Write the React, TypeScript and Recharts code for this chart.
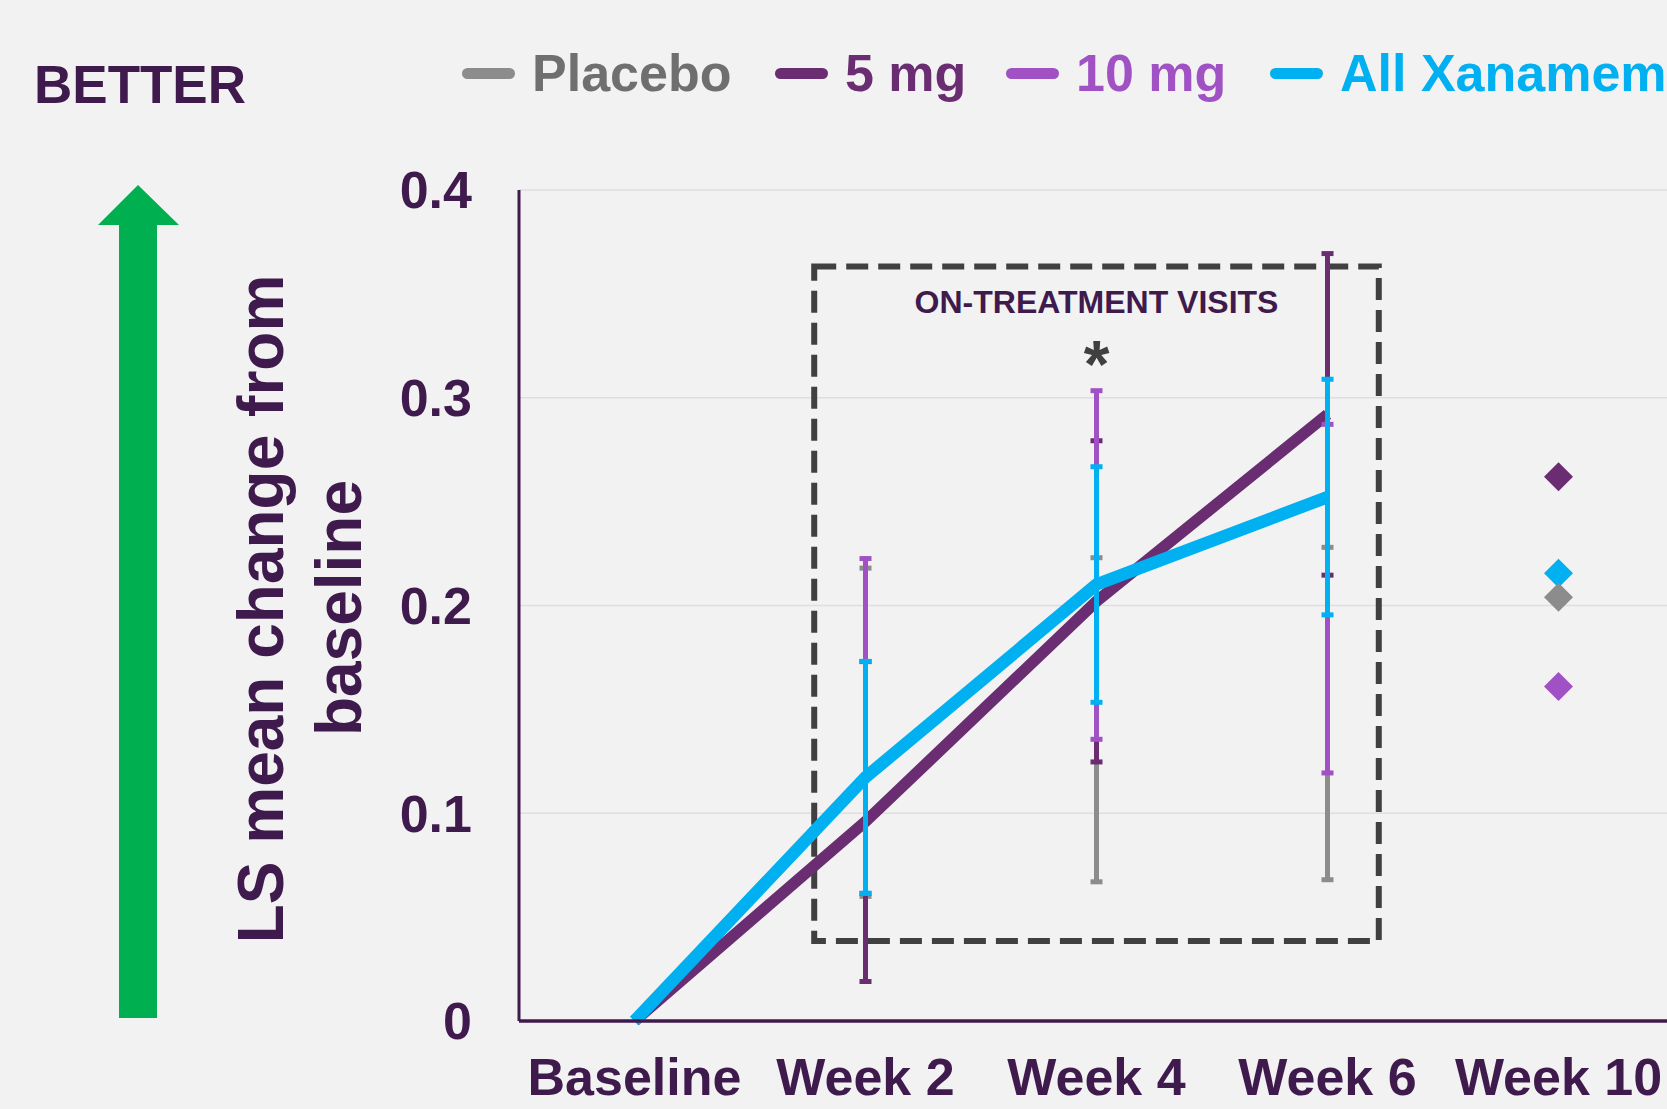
import React from "react";
import {
  ComposedChart,
  Line,
  XAxis,
  YAxis,
  CartesianGrid,
  ErrorBar,
  ReferenceArea,
  ReferenceDot,
} from "recharts";

const FONT = '"Liberation Sans", Arial, Helvetica, sans-serif';
const INK = "#3f1a4c";
const GREY = "#8c8c8c";
const PURPLE = "#6a2d71";
const VIOLET = "#a052c4";
const CYAN = "#00b0f0";
const BG = "#f2f2f2";

const visits = ["Baseline", "Week 2", "Week 4", "Week 6", "Week 10"];
const yTicks = [0, 0.1, 0.2, 0.3, 0.4];

// LS mean change from baseline per visit; Week 10 is off-treatment (diamond only)
const placebo = [0, 0.139, 0.145, 0.148, 0.204];
const placeboErr = [0, 0.079, 0.078, 0.08, 0];
const mg5 = [0, 0.096, 0.202, 0.292, 0.262];
const mg5Err = [0, 0.077, 0.0773, 0.0774, 0];
const mg10 = [0, 0.142, 0.2195, 0.2033, 0.161];
const mg10Err = [0, 0.0806, 0.0839, 0.0839, 0];
const allXan = [0, 0.1173, 0.2101, 0.2522, 0.2155];
const allXanErr = [0, 0.0558, 0.0567, 0.0567, 0];

const legendItems = [
  { name: "Placebo", color: GREY, text: "#6f6f6f" },
  { name: "5 mg", color: PURPLE, text: PURPLE },
  { name: "10 mg", color: VIOLET, text: VIOLET },
  { name: "All Xanamem", color: CYAN, text: CYAN },
];

const FU = 4; // index of the follow-up visit
const onTx = (i: number) => i >= 1 && i <= 3;

const rows = visits.map((name, i) => ({
  x: i,
  name,
  mg5Line: i < FU ? mg5[i] : null,
  allLine: i < FU ? allXan[i] : null,
  placeboBar: onTx(i) ? placebo[i] : null,
  placeboErr: placeboErr[i],
  mg5Bar: onTx(i) ? mg5[i] : null,
  mg5Err: mg5Err[i],
  mg10Bar: onTx(i) ? mg10[i] : null,
  mg10Err: mg10Err[i],
  allBar: onTx(i) ? allXan[i] : null,
  allErr: allXanErr[i],
  placeboFu: i === FU ? placebo[i] : null,
  mg5Fu: i === FU ? mg5[i] : null,
  mg10Fu: i === FU ? mg10[i] : null,
  allFu: i === FU ? allXan[i] : null,
}));

const diamond = (color: string) => (p: any) => {
  if (p.cx == null || p.cy == null || p.value == null)
    return <g key={`e-${p.index}`} />;
  const r = 14.5;
  const { cx, cy } = p;
  return (
    <path
      key={`d-${p.index}`}
      d={`M${cx},${cy - r} L${cx + r},${cy} L${cx},${cy + r} L${cx - r},${cy} Z`}
      fill={color}
    />
  );
};

const textAt = (value: string, size: number, color: string) => (p: any) => {
  const vb = p.viewBox || {};
  const x = (vb.x ?? 0) + (vb.width ?? 0) / 2;
  const y = (vb.y ?? 0) + (vb.height ?? 0) / 2;
  return (
    <text
      x={x}
      y={y}
      textAnchor="middle"
      fill={color}
      fontFamily={FONT}
      fontWeight={700}
      fontSize={size}
    >
      {value}
    </text>
  );
};

const tickStyle = { fill: INK, fontSize: 52, fontWeight: 700, fontFamily: FONT };

function Overlay() {
  return (
    <svg
      width={1667}
      height={1109}
      style={{ position: "absolute", left: 0, top: 0, pointerEvents: "none" }}
    >
      <text x={34} y={103} fill={INK} fontFamily={FONT} fontWeight={700} fontSize={53}>
        BETTER
      </text>
      {/* green "better" arrow */}
      <polygon
        points="138,185 179,225 157,225 157,1018 119,1018 119,225 98,225"
        fill="#00b050"
      />
      <text
        transform="translate(283,609) rotate(-90)"
        textAnchor="middle"
        fill={INK}
        fontFamily={FONT}
        fontWeight={700}
        fontSize={64}
      >
        LS mean change from
      </text>
      <text
        transform="translate(361,608) rotate(-90)"
        textAnchor="middle"
        fill={INK}
        fontFamily={FONT}
        fontWeight={700}
        fontSize={64}
      >
        baseline
      </text>
      {legendItems.map((it, i) => {
        const sx = [462, 775, 1006, 1270][i];
        return (
          <g key={it.name}>
            <line
              x1={sx + 5.5}
              x2={sx + 47.5}
              y1={73.5}
              y2={73.5}
              stroke={it.color}
              strokeWidth={11}
              strokeLinecap="round"
            />
            <text
              x={sx + 70}
              y={91}
              fill={it.text}
              fontFamily={FONT}
              fontWeight={700}
              fontSize={52}
            >
              {it.name}
            </text>
          </g>
        );
      })}
    </svg>
  );
}

export default function App() {
  return (
    <div
      style={{
        position: "absolute",
        left: 0,
        top: 0,
        width: 1667,
        height: 1109,
        overflow: "hidden",
        background: BG,
      }}
    >
      <ComposedChart
        width={1674}
        height={1109}
        data={rows}
        margin={{ top: 190, right: 0, bottom: 0, left: 0 }}
      >
        <CartesianGrid vertical={false} stroke="#dedede" strokeWidth={1.5} />
        <XAxis
          dataKey="x"
          type="number"
          domain={[-0.5, 4.5]}
          ticks={[0, 1, 2, 3, 4]}
          tickFormatter={(v: number) => visits[v]}
          height={88}
          tickLine={false}
          tickSize={0}
          tickMargin={37}
          axisLine={{ stroke: INK, strokeWidth: 3.5 }}
          tick={tickStyle}
          interval={0}
        />
        <YAxis
          type="number"
          domain={[0, 0.4]}
          ticks={yTicks}
          tickFormatter={(v: number) => (v === 0 ? "0" : v.toFixed(1))}
          width={519}
          tickLine={false}
          tickSize={0}
          tickMargin={47}
          axisLine={{ stroke: INK, strokeWidth: 3 }}
          tick={tickStyle}
        />
        <ReferenceArea
          x1={0.778}
          x2={3.222}
          y1={0.0385}
          y2={0.3632}
          fill="none"
          fillOpacity={0}
          stroke="#404040"
          strokeWidth={6}
          strokeDasharray="22 10"
        />
        <ReferenceDot
          x={2}
          y={0.3406}
          r={0}
          fill="none"
          stroke="none"
          label={{ content: textAt("ON-TREATMENT VISITS", 32, INK) }}
        />
        <ReferenceDot
          x={2}
          y={0.305}
          r={0}
          fill="none"
          stroke="none"
          label={{ content: textAt("*", 66, "#404040") }}
        />

        <Line
          dataKey="mg5Line"
          stroke={PURPLE}
          strokeWidth={11.5}
          dot={false}
          activeDot={false}
          type="linear"
          isAnimationActive={false}
        />
        <Line
          dataKey="allLine"
          stroke={CYAN}
          strokeWidth={12.5}
          dot={false}
          activeDot={false}
          type="linear"
          isAnimationActive={false}
        />

        <Line dataKey="placeboBar" stroke="none" dot={false} activeDot={false} isAnimationActive={false}>
          <ErrorBar dataKey="placeboErr" stroke={GREY} strokeWidth={5} width={6} isAnimationActive={false} />
        </Line>
        <Line dataKey="mg5Bar" stroke="none" dot={false} activeDot={false} isAnimationActive={false}>
          <ErrorBar dataKey="mg5Err" stroke={PURPLE} strokeWidth={5} width={6} isAnimationActive={false} />
        </Line>
        <Line dataKey="mg10Bar" stroke="none" dot={false} activeDot={false} isAnimationActive={false}>
          <ErrorBar dataKey="mg10Err" stroke={VIOLET} strokeWidth={5} width={6} isAnimationActive={false} />
        </Line>
        <Line dataKey="allBar" stroke="none" dot={false} activeDot={false} isAnimationActive={false}>
          <ErrorBar dataKey="allErr" stroke={CYAN} strokeWidth={5} width={6} isAnimationActive={false} />
        </Line>

        <Line dataKey="mg5Fu" stroke="none" dot={diamond(PURPLE)} activeDot={false} isAnimationActive={false} />
        <Line dataKey="mg10Fu" stroke="none" dot={diamond(VIOLET)} activeDot={false} isAnimationActive={false} />
        <Line dataKey="allFu" stroke="none" dot={diamond(CYAN)} activeDot={false} isAnimationActive={false} />
        <Line dataKey="placeboFu" stroke="none" dot={diamond(GREY)} activeDot={false} isAnimationActive={false} />
      </ComposedChart>
      <Overlay />
    </div>
  );
}
